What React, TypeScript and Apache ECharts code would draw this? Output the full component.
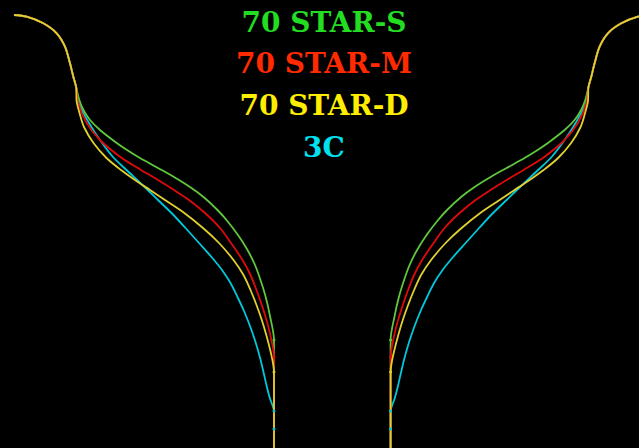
import React, { useEffect, useRef } from "react";
import * as echarts from "echarts";

// Half-width (distance from the centre line) vs depth (downwards).
const centreX = 332.3;
const stemHalfWidth = 58.3;
const bottomDepth = 450;

const commonTop: number[][] = [
  [318.3, 15], [305.6, 16.7], [289, 23.3], [275.6, 33.3], [267.3, 46.7],
  [262.3, 63.3], [259, 76.7], [256, 88],
];

const starS: number[][] = [
  [253, 100], [248.8, 110], [242.3, 120], [232.3, 130], [215.6, 143], [205.3, 150],
  [192.3, 158], [174.3, 168], [158.3, 177], [142.3, 187], [128.8, 197], [114.8, 210],
  [105.8, 220], [94.3, 235], [84.8, 250], [77.3, 265], [71.8, 280], [66.6, 297],
  [62.1, 317], [58.3, 340],
];
const starM: number[][] = [
  [254.3, 103], [245.6, 123], [232.3, 140], [212.3, 156.7], [191.3, 170], [174.3, 180],
  [158.3, 190], [143.3, 200], [127.3, 213], [112.3, 228], [101.3, 243], [89.8, 260],
  [81.8, 275], [75.8, 290], [70.5, 305], [65.8, 320], [62, 335], [58.3, 357],
];
const starD: number[][] = [
  [255.8, 100], [252.8, 113], [248.3, 127], [238.8, 143], [225.8, 158], [211.3, 170],
  [197.3, 180], [182.3, 190], [167.3, 200], [149.3, 212], [129.3, 228], [113.3, 243],
  [98.8, 260], [88.8, 275], [81.8, 290], [75.8, 305], [70.5, 320], [66, 335],
  [62.1, 350], [59.5, 362], [58.3, 372],
];
const c3: number[][] = [
  [253.8, 103], [243.3, 123], [232.3, 140], [219.3, 157], [205.8, 170], [189.8, 185],
  [174.3, 200], [159.8, 214], [146.8, 228], [133.3, 243], [120.8, 257], [110.3, 270],
  [101.8, 283], [94.8, 297], [88.3, 311], [82.3, 326], [76.8, 342], [72.2, 358],
  [68.6, 373], [65.4, 387], [62.5, 398], [59.6, 406], [58.3, 411],
];
// extra marked depths on the stem
const c3StemMarks: number[] = [429];

const names = ["70 STAR-S", "70 STAR-M", "70 STAR-D", "3C"];
const lineColors = ["#5fc83c", "#e00a0a", "#e0d030", "#00c8dc"];
const textColors = ["#22dd22", "#ff2a00", "#ffee00", "#00e0ee"];

export default function App() {
  const ref = useRef<HTMLDivElement>(null);
  useEffect(() => {
    if (!ref.current) return;
    const chart = echarts.init(ref.current, null, { renderer: "svg" });
    const curves = [starS, starM, starD, c3];
    const extraMarks = [[], [], [], c3StemMarks];
    const series: any[] = [];
    const drawOrder = [3, 0, 1, 2];
    drawOrder.forEach((ci) => {
      const curve = curves[ci];
      const pts = [...commonTop, ...curve];
      const jointIdx = pts.length - 1;
      [-1, 1].forEach((side) => {
        const data: any[] = pts.map((p, i) => ({
          value: [side * p[0], p[1]],
          symbol: i === jointIdx ? "circle" : "none",
          symbolSize: 3,
        }));
        extraMarks[ci].forEach((d: number) =>
          data.push({ value: [side * stemHalfWidth, d], symbol: "circle", symbolSize: 3 })
        );
        data.push({ value: [side * stemHalfWidth, bottomDepth], symbol: "none" });
        series.push({
          type: "line",
          name: names[ci],
          data,
          smooth: 0.3,
          showSymbol: true,
          symbol: "circle",
          symbolSize: 3,
          lineStyle: { color: lineColors[ci], width: 1.8 },
          itemStyle: { color: lineColors[ci], borderWidth: 0 },
          silent: true,
        });
      });
    });
    chart.setOption({
      animation: false,
      backgroundColor: "#000000",
      grid: { left: 0, right: 0, top: 0, bottom: 0 },
      xAxis: { type: "value", min: -centreX, max: 639 - centreX, show: false },
      yAxis: { type: "value", inverse: true, min: 0, max: 448, show: false },
      series,
      graphic: names.map((n, i) => ({
        type: "text",
        x: 324,
        y: 22 + 41.7 * i,
        style: {
          text: n,
          fill: textColors[i],
          font: 'bold 28px "DejaVu Serif"',
          align: "center",
          verticalAlign: "middle",
        },
      })),
    });
    return () => chart.dispose();
  }, []);
  return (
    <div
      ref={ref}
      style={{ position: "fixed", left: 0, top: 0, width: 639, height: 448, background: "#000" }}
    />
  );
}
